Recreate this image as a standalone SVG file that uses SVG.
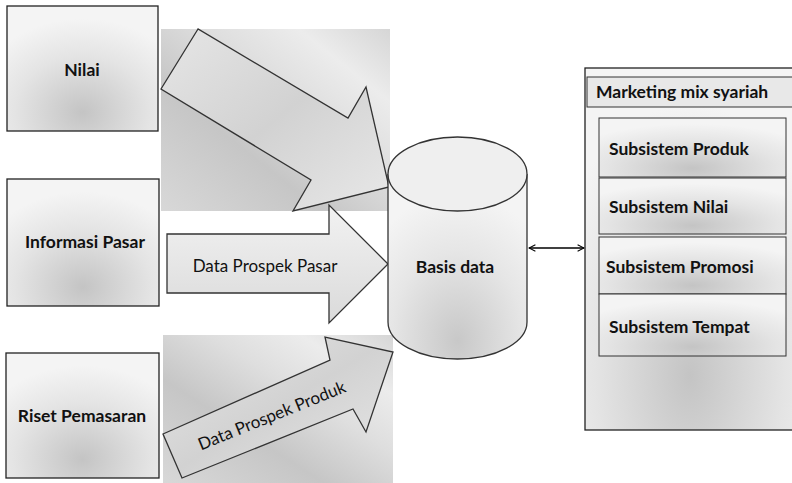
<svg xmlns="http://www.w3.org/2000/svg" width="792" height="483" viewBox="0 0 792 483">
<defs>
<radialGradient id="boxg" cx="50%" cy="85%" r="75%">
<stop offset="0" stop-color="#c4c4c4"/>
<stop offset="0.6" stop-color="#e4e4e4"/>
<stop offset="1" stop-color="#f4f4f4"/>
</radialGradient>
<linearGradient id="bgg" x1="0" y1="1" x2="1" y2="0">
<stop offset="0" stop-color="#d8d8d8"/>
<stop offset="0.35" stop-color="#c6c6c6"/>
<stop offset="0.6" stop-color="#dedede"/>
<stop offset="0.8" stop-color="#ececec"/>
<stop offset="1" stop-color="#d6d6d6"/>
</linearGradient>
<linearGradient id="arrg" x1="0" y1="0" x2="1" y2="1">
<stop offset="0" stop-color="#e6e6e6"/>
<stop offset="0.5" stop-color="#d2d2d2"/>
<stop offset="1" stop-color="#e8e8e8"/>
</linearGradient>
<linearGradient id="arr2g" x1="0" y1="0" x2="0" y2="1">
<stop offset="0" stop-color="#f2f2f2"/>
<stop offset="1" stop-color="#dadada"/>
</linearGradient>
<radialGradient id="cylg" cx="50%" cy="90%" r="80%">
<stop offset="0" stop-color="#c8c8c8"/>
<stop offset="0.6" stop-color="#e6e6e6"/>
<stop offset="1" stop-color="#f4f4f4"/>
</radialGradient>
<marker id="ah" viewBox="0 0 10 10" refX="9" refY="5" markerWidth="8" markerHeight="8" orient="auto-start-reverse" markerUnits="userSpaceOnUse">
<path d="M1,1 L9,5 L1,9" fill="none" stroke="#000" stroke-width="1.3"/>
</marker>
</defs>
<style>
.box{fill:url(#boxg);stroke:#222;stroke-width:1.3}
.lbl{font-family:Lato,"Open Sans",sans-serif;font-weight:bold;font-size:17.5px;fill:#111}
.arr{stroke:#333;stroke-width:1.3}
.reg{font-family:Lato,"Open Sans",sans-serif;font-size:17px;fill:#111}
.row{fill:url(#boxg);stroke:#333;stroke-width:1}
</style>
<rect width="792" height="483" fill="#fff"/>

<g id="node-nilai">
<rect class="box" x="7" y="6" width="151" height="125"/>
<text class="lbl" x="82" y="76" text-anchor="middle">Nilai</text>
</g>
<g id="node-informasi-pasar">
<rect class="box" x="7" y="179" width="152" height="127"/>
<text class="lbl" x="85" y="248" text-anchor="middle">Informasi Pasar</text>
</g>
<g id="node-riset-pemasaran">
<rect class="box" x="6" y="353" width="153" height="125"/>
<text class="lbl" x="82" y="422" text-anchor="middle">Riset Pemasaran</text>
</g>

<g id="arrow-nilai">
<rect x="161" y="29" width="229" height="182" fill="url(#bgg)"/>
<polygon class="arr" fill="url(#arrg)" points="198,29 161,89 311,180 293,211 389,187 366,87 348,118"/>
</g>
<g id="arrow-pasar">
<polygon class="arr" fill="url(#arr2g)" points="167,234 329,234 329,205 388,264 329,323 329,293 167,293"/>
<text class="reg" x="265" y="272" text-anchor="middle">Data Prospek Pasar</text>
</g>
<g id="arrow-produk">
<rect x="163" y="335" width="230" height="148" fill="url(#bgg)"/>
<polygon class="arr" fill="url(#arrg)" points="163,434 330,360 325,337 393,352 366,432 353,409 182,478"/>
<text class="reg" font-size="15.5" transform="translate(274,421) rotate(-22)" text-anchor="middle">Data Prospek Produk</text>
</g>

<g id="node-basis-data">
<path d="M388,174 L388,322 A69.5,37 0 0 0 527,322 L527,174" fill="url(#cylg)" stroke="#333" stroke-width="1.3"/>
<ellipse cx="457.5" cy="174" rx="69.5" ry="37" fill="#efefef" stroke="#333" stroke-width="1.3"/>
<text class="lbl" x="455" y="273" text-anchor="middle" font-size="17">Basis data</text>
</g>

<g id="connectors">
<line x1="529" y1="248" x2="584" y2="248" stroke="#000" stroke-width="1.3" marker-start="url(#ah)" marker-end="url(#ah)"/>
</g>

<g id="node-marketing-mix">
<rect class="box" x="585" y="68" width="210" height="362"/>
<rect x="587" y="77" width="208" height="30" fill="#e8e8e8" stroke="#333" stroke-width="1"/>
<text class="lbl" x="596" y="98">Marketing mix syariah</text>
<rect class="row" x="599" y="118" width="187" height="59"/>
<rect class="row" x="599" y="178" width="187" height="56"/>
<rect class="row" x="599" y="237" width="187" height="57"/>
<rect class="row" x="599" y="294" width="187" height="62"/>
<text class="lbl" x="609" y="155">Subsistem Produk</text>
<text class="lbl" x="609" y="213">Subsistem Nilai</text>
<text class="lbl" x="606" y="273" font-size="15.5">Subsistem Promosi</text>
<text class="lbl" x="609" y="333">Subsistem Tempat</text>
</g>
</svg>
